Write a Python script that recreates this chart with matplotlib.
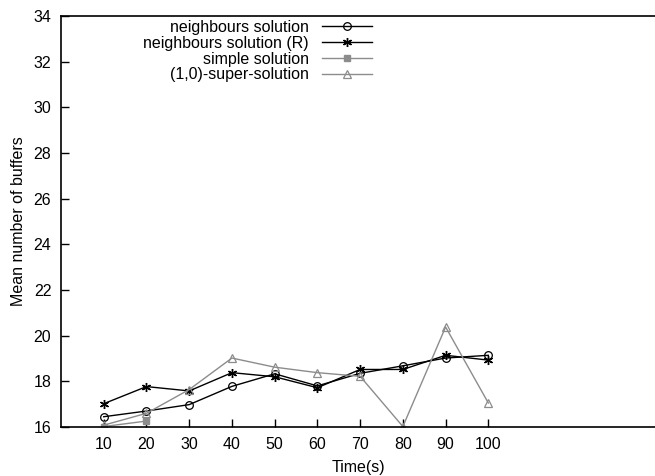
import matplotlib
matplotlib.use('Agg')
import matplotlib.pyplot as plt

plt.rcParams['font.family'] = ['Liberation Sans', 'DejaVu Sans']

# data
times = [10, 20, 30, 40, 50, 60, 70, 80, 90, 100]
neighbours = [16.45, 16.7, 16.98, 17.78, 18.33, 17.8, 18.35, 18.68, 19.02, 19.14]
neighbours_r = [17.02, 17.77, 17.58, 18.38, 18.2, 17.72, 18.52, 18.52, 19.14, 18.93]
simple_times = [10, 20]
simple = [16.02, 16.26]
super_sol = [16.08, 16.6, 17.64, 19.02, 18.62, 18.38, 18.22, 16.02, 20.38, 17.05]

xticks = times
yticks = list(range(16, 35, 2))

fig = plt.figure(figsize=(6.55, 4.76), dpi=100)
ax = fig.add_axes([61 / 655, 1 - 427 / 476, 1 - 61 / 655, (427 - 16) / 476])

gray = '#8c8c8c'
ax.plot(times, neighbours, color='black', lw=1, marker='o', ms=5.5,
        mfc='none', mec='black', mew=0.9, label='neighbours solution')
ax.plot(times, neighbours_r, color='black', lw=1, marker=(6, 2, 0), ms=6.5,
        mec='black', mew=1, label='neighbours solution (R)')
ax.plot(simple_times, simple, color=gray, lw=1, marker='s', ms=4.5,
        mfc=gray, mec=gray, label='simple solution')
ax.plot(times, super_sol, color=gray, lw=1, marker='^', ms=5.5,
        mfc='none', mec=gray, mew=0.9, label='(1,0)-super-solution')

ax.set_xlim(0, 139)
ax.set_ylim(16, 34)
ax.set_xticks(xticks)
ax.set_yticks(yticks)
ax.tick_params(direction='in', length=6, width=1, labelsize=11.5, pad=7)
ax.spines['right'].set_visible(False)
for s in ['left', 'bottom', 'top']:
    ax.spines[s].set_linewidth(1.2)

ax.set_xlabel('Time(s)', fontsize=11.5, labelpad=6)
ax.set_ylabel('Mean number of buffers', fontsize=11.5, labelpad=5)

leg = ax.legend(loc='upper right', bbox_to_anchor=(376 / 655, 1 - 16 / 476),
                bbox_transform=fig.transFigure, frameon=False, markerfirst=False,
                fontsize=11.5, handlelength=3.1, handletextpad=0.85,
                labelspacing=0.05, borderpad=0.25, borderaxespad=0)

fig.savefig('out.png', dpi=100)
